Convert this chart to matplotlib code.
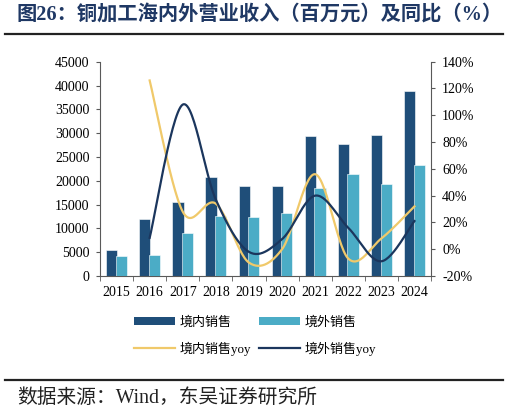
import numpy as np
import matplotlib
matplotlib.use("Agg")
import matplotlib.pyplot as plt
from matplotlib.lines import Line2D
from matplotlib.patches import Patch

# ========================
# DATA
# ========================
years = ["2015", "2016", "2017", "2018", "2019", "2020", "2021", "2022", "2023", "2024"]
domestic = [5400, 12000, 15500, 20800, 18900, 19000, 29400, 27700, 29600, 38800]
overseas = [4200, 4500, 9100, 12500, 12300, 13300, 18400, 21500, 19400, 23300]
# yoy (%), starts in 2016
domestic_yoy = [126, 28, 34, -10, 0, 56, -7, 8, 32]
overseas_yoy = [8.5, 108, 37, -2, 7.5, 40, 16, -9, 21]

# ========================
# STYLE
# ========================
FONTS = ["Liberation Serif", "Noto Sans CJK SC"]
plt.rcParams["font.family"] = FONTS
plt.rcParams["axes.unicode_minus"] = False
C_DOM = "#1F4E79"
C_OVS = "#4BACC6"
C_DOM_YOY = "#F0C96A"
C_OVS_YOY = "#1B365D"
C_AXIS = "#595959"


def smooth(xs, ys, n=30):
    # Excel-like smoothed line (Catmull-Rom as cubic bezier)
    xs = np.asarray(xs, float)
    ys = np.asarray(ys, float)
    pts = np.column_stack([xs, ys])
    out = []
    for i in range(len(pts) - 1):
        p0 = pts[i - 1] if i > 0 else pts[i]
        p1, p2 = pts[i], pts[i + 1]
        p3 = pts[i + 2] if i + 2 < len(pts) else pts[i + 1]
        c1 = p1 + (p2 - p0) / 6
        c2 = p2 - (p3 - p1) / 6
        t = np.linspace(0, 1, n)[:, None]
        seg = ((1 - t) ** 3) * p1 + 3 * ((1 - t) ** 2) * t * c1 + 3 * (1 - t) * t ** 2 * c2 + t ** 3 * p2
        out.append(seg if i == 0 else seg[1:])
    seg = np.vstack(out)
    return seg[:, 0], seg[:, 1]


fig = plt.figure(figsize=(5.09, 4.13), dpi=100)
ax = fig.add_axes([100 / 509, 1 - 276 / 413, 331 / 509, 214.3 / 413])

x = np.arange(len(years))
w = 0.34
ax.bar(x - 0.145, domestic, w, color=C_DOM, edgecolor="white", linewidth=0.4, zorder=2)
ax.bar(x + 0.145, overseas, w, color=C_OVS, edgecolor="white", linewidth=0.4, zorder=3)
ax.set_ylim(0, 45000)
ax.set_yticks(np.arange(0, 45001, 5000))
ax.set_xlim(-0.5, len(years) - 0.5)
ax.set_xticks(x)
ax.set_xticklabels(years)
ax.set_xticks(np.arange(-0.5, len(years), 1), minor=True)
ax.tick_params(axis="x", which="major", length=0, pad=7.5, labelsize=10)
ax.tick_params(axis="x", which="minor", length=3.5, direction="out", color=C_AXIS)
ax.tick_params(axis="y", length=3, direction="out", color=C_AXIS, pad=4.5, labelsize=10)

ax2 = ax.twinx()
ax2.set_ylim(-20, 140)
ax2.set_yticks(np.arange(-20, 141, 20))
ax2.set_yticklabels([f"{v}%" for v in range(-20, 141, 20)])
ax2.tick_params(axis="y", length=3, direction="out", color=C_AXIS, pad=5, labelsize=10)

sx, sy = smooth(x[1:], domestic_yoy)
ax2.plot(sx, sy, color=C_DOM_YOY, lw=1.6, zorder=4)
sx, sy = smooth(x[1:], overseas_yoy)
ax2.plot(sx, sy, color=C_OVS_YOY, lw=1.6, zorder=5)

for a in (ax, ax2):
    a.spines["top"].set_visible(False)
    for s in ("left", "right", "bottom"):
        a.spines[s].set_color(C_AXIS)
        a.spines[s].set_linewidth(0.8)
ax.spines["right"].set_visible(False)
ax2.spines["left"].set_visible(False)
ax2.spines["bottom"].set_visible(False)

# legend
handles = [
    Patch(facecolor=C_DOM, edgecolor="none"),
    Line2D([], [], color=C_DOM_YOY, lw=1.6),
    Patch(facecolor=C_OVS, edgecolor="none"),
    Line2D([], [], color=C_OVS_YOY, lw=1.6),
]
labels = ["境内销售", "境内销售yoy", "境外销售", "境外销售yoy"]
fig.legend(handles, labels, ncol=2, loc="upper left", bbox_to_anchor=(134 / 509, 1 - 316 / 413),
           frameon=False, fontsize=9.4, borderpad=0, borderaxespad=0, handlelength=3.15,
           handleheight=0.6, handletextpad=0.33, columnspacing=0.6, labelspacing=1.0)

# title and source
fig.text(17 / 509, 1 - 16 / 413, "图26：铜加工海内外营业收入（百万元）及同比（%）", fontsize=14.6,
         fontweight="bold", color="#1F3864", va="center", ha="left")
fig.add_artist(Line2D([5 / 509, 503 / 509], [1 - 34 / 413] * 2, color="#222222", lw=1.6))
fig.add_artist(Line2D([5 / 509, 503 / 509], [1 - 380 / 413] * 2, color="#222222", lw=1.6))
fig.text(17 / 509, 1 - 398 / 413, "数据来源：Wind，东吴证券研究所", fontsize=14.2,
         color="#222222", va="center", ha="left")

fig.savefig("out.png", dpi=100)
